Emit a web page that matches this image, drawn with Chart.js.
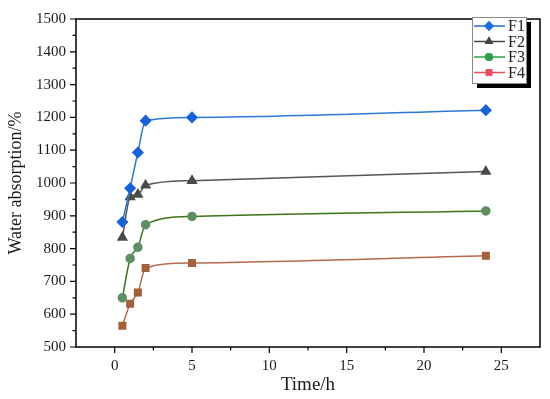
<!DOCTYPE html>
<html>
<head>
<meta charset="utf-8">
<script src="https://cdn.jsdelivr.net/npm/chart.js@4/dist/chart.umd.min.js"></script>
<style>
  html, body { margin: 0; padding: 0; background: #fff; }
  #wrap { width: 550px; height: 399px; }
</style>
</head>
<body>
<div id="wrap"><canvas id="chart" width="550" height="399"></canvas></div>
<script>
const times = [0.5, 1, 1.5, 2, 5, 24];
const f1 = [881, 984, 1093, 1190, 1200, 1222];
const f2 = [834, 957, 965, 993, 1007, 1035];
const f3 = [650, 770, 804, 873, 898, 915];
const f4 = [565, 632, 666, 741, 756, 778];
const seriesNames = ['F1', 'F2', 'F3', 'F4'];

const serif = '"Liberation Serif", "DejaVu Serif", serif';

const toPts = (ys) => times.map((t, i) => ({ x: t, y: ys[i] }));

const styles = [
  { line: '#2a78d9', mark: '#1562d9', shape: 'rectRot', r: 5, legend: '#1a6fdf' },
  { line: '#555555', mark: '#4a4a4a', shape: 'triangle', r: 5, legend: '#444444' },
  { line: '#3c7419', mark: '#5e8e62', shape: 'circle', r: 4, legend: '#2aa04a' },
  { line: '#b86a4e', mark: '#a5603a', shape: 'rect', r: 4.6, legend: '#ee4a5a' },
];

const datasets = [f1, f2, f3, f4].map((ys, i) => ({
  label: seriesNames[i],
  data: toPts(ys),
  borderColor: styles[i].line,
  backgroundColor: styles[i].mark,
  pointBackgroundColor: styles[i].mark,
  pointBorderColor: styles[i].mark,
  pointStyle: styles[i].shape,
  pointRadius: styles[i].r,
  borderWidth: 1.5,
  cubicInterpolationMode: 'monotone',
  showLine: true,
}));

// frame + outward major/minor tick marks
const frameTicks = {
  id: 'frameTicks',
  afterDraw(chart) {
    const { ctx, chartArea: a, scales } = chart;
    ctx.save();
    ctx.strokeStyle = '#000';
    ctx.lineWidth = 1.5;
    ctx.strokeRect(a.left, a.top, a.right - a.left, a.bottom - a.top);
    ctx.lineWidth = 1.2;
    ctx.beginPath();
    for (let v = 0; v <= 25; v += 2.5) {
      const x = scales.x.getPixelForValue(v);
      const len = v % 5 === 0 ? 6 : 3.5;
      ctx.moveTo(x, a.bottom); ctx.lineTo(x, a.bottom + len);
    }
    for (let v = 500; v <= 1500; v += 50) {
      const y = scales.y.getPixelForValue(v);
      const len = v % 100 === 0 ? 6 : 3.5;
      ctx.moveTo(a.left, y); ctx.lineTo(a.left - len, y);
    }
    ctx.stroke();
    ctx.restore();
  }
};

// boxed legend with drop shadow, line + marker per entry
const boxLegend = {
  id: 'boxLegend',
  afterDraw(chart) {
    const { ctx } = chart;
    const bx = 472, by = 17, bw = 54, bh = 66;
    ctx.save();
    ctx.fillStyle = '#000';
    ctx.fillRect(bx + 5, by + 5, bw, bh);
    ctx.fillStyle = '#fff';
    ctx.fillRect(bx, by, bw, bh);
    ctx.strokeStyle = '#888';
    ctx.lineWidth = 1;
    ctx.strokeRect(bx + 0.5, by + 0.5, bw, bh);
    ctx.font = '16px ' + serif;
    ctx.textBaseline = 'middle';
    seriesNames.forEach((name, i) => {
      const y = by + 9 + i * 15.5;
      const s = styles[i];
      ctx.strokeStyle = s.legend;
      ctx.lineWidth = 1.5;
      ctx.beginPath(); ctx.moveTo(bx + 2, y); ctx.lineTo(bx + 33, y); ctx.stroke();
      ctx.fillStyle = s.legend;
      Chart.helpers.drawPoint(ctx, { pointStyle: s.shape, radius: s.r, borderWidth: 0, rotation: 0 }, bx + 17, y);
      ctx.fill();
      ctx.fillStyle = '#222';
      ctx.fillText(name, bx + 36, y + 1);
    });
    ctx.restore();
  }
};

new Chart(document.getElementById('chart'), {
  type: 'scatter',
  data: { datasets },
  plugins: [frameTicks, boxLegend],
  options: {
    responsive: false,
    animation: false,
    layout: { padding: { top: 11, right: 10, left: 0, bottom: 0 } },
    plugins: { legend: { display: false }, tooltip: { enabled: false } },
    scales: {
      x: {
        type: 'linear',
        min: -2.5, max: 27.5,
        afterFit(s) { s.height = 52; },
        ticks: {
          stepSize: 2.5,
          padding: 10,
          color: '#1a1a1a',
          font: { family: serif, size: 15 },
          maxRotation: 0,
          autoSkip: false,
          callback: (v) => (v % 5 === 0 && v >= 0 && v <= 25 ? v : ''),
        },
        grid: { display: false, drawTicks: false },
        border: { display: false },
        title: { display: true, text: 'Time/h', color: '#1a1a1a', font: { family: serif, size: 19 }, padding: { top: 0, bottom: 3 } },
      },
      y: {
        min: 500, max: 1500,
        afterFit(s) { s.width = 76; },
        ticks: {
          stepSize: 50,
          padding: 10,
          color: '#1a1a1a',
          font: { family: serif, size: 15 },
          autoSkip: false,
          callback: (v) => (v % 100 === 0 ? v : ''),
        },
        grid: { display: false, drawTicks: false },
        border: { display: false },
        title: { display: true, text: 'Water absorption/%', color: '#1a1a1a', font: { family: serif, size: 18 }, padding: { top: 5, bottom: 6 } },
      },
    },
  },
});
</script>
</body>
</html>
